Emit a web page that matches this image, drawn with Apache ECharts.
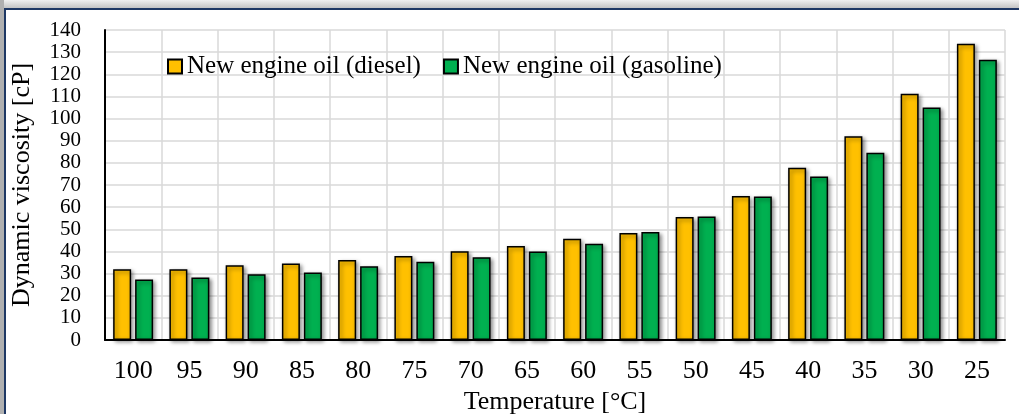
<!DOCTYPE html>
<html>
<head>
<meta charset="utf-8">
<script src="https://cdn.jsdelivr.net/npm/echarts@6/dist/echarts.min.js"></script>
<style>
  html, body { margin: 0; padding: 0; background: #fff; }
  #wrap { position: relative; width: 1019px; height: 414px; overflow: hidden; background: #fff; }
  #topband { position: absolute; left: 0; top: 0; width: 1019px; height: 8px; background: linear-gradient(#f0f0f0, #c4c4c4); }
  #leftband { position: absolute; left: 0; top: 0; width: 4px; height: 414px; background: #b0b0b0; }
  #topline { position: absolute; left: 4px; top: 8px; width: 1015px; height: 2px; background: #1f3864; }
  #leftline { position: absolute; left: 4px; top: 8px; width: 2px; height: 406px; background: #1f3864; }
  #main { position: absolute; left: 0; top: 0; width: 1019px; height: 414px; }
</style>
</head>
<body>
<div id="wrap">
  <div id="topband"></div>
  <div id="leftband"></div>
  <div id="topline"></div>
  <div id="leftline"></div>
  <div id="main"></div>
</div>
<script>
// temperatures, deg C
var temps = ['100','95','90','85','80','75','70','65','60','55','50','45','40','35','30','25'];
// dynamic viscosity, cP
var diesel   = [32.0, 32.0, 33.8, 34.6, 36.1, 37.9, 40.1, 42.5, 45.7, 48.3, 55.5, 65.0, 77.8, 92.0, 111.2, 133.8];
var gasoline = [27.3, 28.2, 29.7, 30.5, 33.3, 35.3, 37.4, 40.0, 43.5, 48.8, 55.8, 64.8, 73.8, 84.6, 105.0, 126.6];

var fontFam = '"Liberation Serif", "DejaVu Serif", serif';
var fs = 26;

var chart = echarts.init(document.getElementById('main'));

function barStyle(col){
  return {
    color: col,
    borderColor: '#000',
    borderWidth: 1.5,
    shadowColor: 'rgba(0,0,0,0.45)',
    shadowBlur: 4,
    shadowOffsetX: 2,
    shadowOffsetY: 2
  };
}

var option = {
  animation: false,
  textStyle: { fontFamily: fontFam, color: '#000' },
  grid: { left: 105, right: 14, top: 30, bottom: 74, containLabel: false, outerBoundsMode: 'none' },
  legend: {
    left: 162,
    top: 49,
    itemWidth: 14,
    itemHeight: 14,
    itemGap: 22,
    icon: 'rect',
    textStyle: { fontFamily: fontFam, fontSize: 25, color: '#000' },
    data: ['New engine oil (diesel)', 'New engine oil (gasoline)']
  },
  xAxis: {
    type: 'category',
    data: temps,
    name: 'Temperature [°C]',
    nameLocation: 'middle',
    nameGap: 47,
    nameTextStyle: { fontFamily: fontFam, fontSize: fs, color: '#000' },
    axisLine: { lineStyle: { color: '#000', width: 2 } },
    axisTick: { show: false },
    axisLabel: { fontFamily: fontFam, fontSize: fs, color: '#000', margin: 18 },
    splitLine: { show: true, lineStyle: { color: '#d9d9d9', width: 1.5 } }
  },
  yAxis: {
    type: 'value',
    min: 0,
    max: 140,
    interval: 10,
    name: 'Dynamic viscosity [cP]',
    nameLocation: 'middle',
    nameGap: 70,
    nameRotate: 90,
    nameTextStyle: { fontFamily: fontFam, fontSize: fs, color: '#000' },
    axisLine: { show: true, lineStyle: { color: '#000', width: 2 } },
    axisTick: { show: false },
    axisLabel: { fontFamily: fontFam, fontSize: 21, color: '#000', margin: 24 },
    splitLine: { show: true, lineStyle: { color: '#d9d9d9', width: 1.5 } }
  },
  series: [
    {
      name: 'New engine oil (diesel)',
      type: 'bar',
      data: diesel,
      barWidth: 18,
      barGap: '22%',
      itemStyle: barStyle('#ffc000')
    },
    {
      name: 'New engine oil (gasoline)',
      type: 'bar',
      data: gasoline,
      barWidth: 18,
      barGap: '22%',
      itemStyle: barStyle('#00b050')
    }
  ]
};

chart.setOption(option);
</script>
</body>
</html>
